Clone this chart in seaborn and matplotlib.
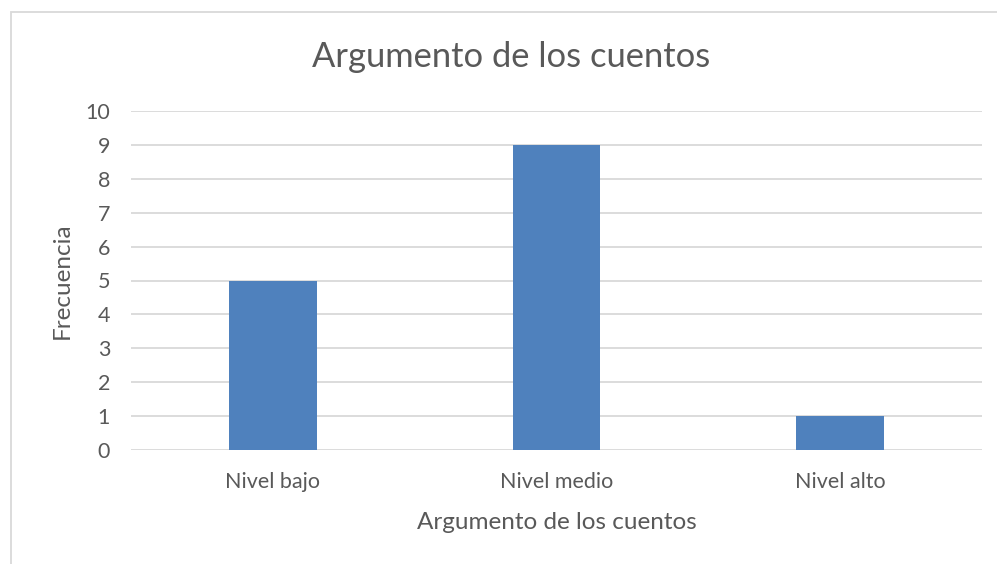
import matplotlib
matplotlib.use('Agg')
import matplotlib.pyplot as plt
import seaborn as sns
import pandas as pd
from matplotlib.patches import Rectangle

# Data
categories = ['Nivel bajo', 'Nivel medio', 'Nivel alto']
frecuencia = [5, 9, 1]

df = pd.DataFrame({'nivel': categories, 'frecuencia': frecuencia})

sns.set_style('white')
plt.rcParams['font.family'] = ['Lato', 'DejaVu Sans']
text_color = '#595959'

fig = plt.figure(figsize=(9.97, 5.64), dpi=100)
ax = fig.add_axes([131 / 997, 1 - 450 / 564, 851 / 997, 339 / 564])

sns.barplot(data=df, x='nivel', y='frecuencia', color='#4F81BD',
            width=0.31, saturation=1, linewidth=0, ax=ax, zorder=3)

ax.set_ylim(0, 10)
ax.set_xlim(-0.5, 2.5)
ax.set_yticks(range(0, 11))
ax.yaxis.grid(True, color='#D9D9D9', linewidth=1.3, zorder=0)
ax.set_axisbelow(True)
for s in ax.spines.values():
    s.set_visible(False)
ax.tick_params(axis='both', length=0, labelsize=15.5, colors=text_color)
ax.tick_params(axis='y', pad=15)
ax.tick_params(axis='x', pad=16)

ax.set_xlabel('Argumento de los cuentos', fontsize=17.5, color=text_color, labelpad=14)
ax.set_ylabel('Frecuencia', fontsize=17.5, color=text_color, labelpad=9)
fig.text(511 / 997, 1 - 57 / 564, 'Argumento de los cuentos', fontsize=24.8,
         color=text_color, ha='center', va='center')

# chart border
fig.patches.append(Rectangle((11 / 997, -0.1), 1.1, 1 - 12 / 564 + 0.1,
                             transform=fig.transFigure, fill=False,
                             edgecolor='#D9D9D9', linewidth=1.3))

fig.savefig('out.png', dpi=100)
